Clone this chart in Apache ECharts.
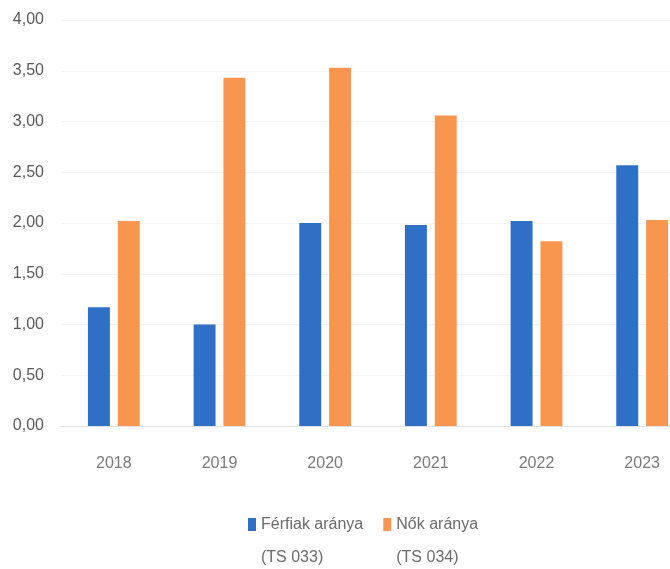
<!DOCTYPE html>
<html>
<head>
<meta charset="utf-8">
<script src="https://cdn.jsdelivr.net/npm/echarts@6/dist/echarts.min.js"></script>
<style>
  html, body { margin: 0; padding: 0; background: #fff; }
  #chart { width: 670px; height: 569px; }
</style>
</head>
<body>
<div id="chart"></div>
<script>
// évek és arányok
var years = ['2018', '2019', '2020', '2021', '2022', '2023'];
var ferfiak = [1.17, 1.00, 2.00, 1.98, 2.02, 2.57];
var nok = [2.02, 3.43, 3.53, 3.06, 1.82, 2.03];
var seriesNames = ['Férfiak aránya', 'Nők aránya'];
var seriesCodes = ['(TS 033)', '(TS 034)'];

(function(){
    var chart = echarts.init(document.getElementById('chart'));

    var option = {
        animation: false,
        color: ['#2f6fc6', '#f8964f'],
        grid: {
            left: 61,
            top: 20,
            width: 634,
            height: 406,
            outerBoundsMode: 'none'   // a jobb szélső oszlop kilóghat a képből
        },
        legend: {
            data: seriesNames,
            left: 243,
            top: 470,
            itemWidth: 8,
            itemHeight: 13,
            itemGap: 20,
            icon: 'rect',
            formatter: function (name) {
                // üres első sor, hogy az ikon az első szövegsorhoz igazodjon
                return '\n' + name + '\n' + seriesCodes[seriesNames.indexOf(name)];
            },
            textStyle: {
                fontSize: 16,
                color: '#6b6b6b',
                lineHeight: 33
            }
        },
        xAxis: {
            type: 'category',
            data: years,
            axisLine: { lineStyle: { color: '#e2e2e2' } },
            axisTick: { show: false },
            axisLabel: {
                margin: 30,
                fontSize: 16,
                color: '#7a7a7a'
            }
        },
        yAxis: {
            type: 'value',
            min: 0,
            max: 4,
            interval: 0.5,
            axisLine: { show: false },
            axisTick: { show: false },
            splitLine: { lineStyle: { color: '#f3f3f3' } },
            axisLabel: {
                margin: 17,
                fontSize: 16,
                color: '#5a5a5a',
                formatter: function (v) {
                    return v.toFixed(2).replace('.', ',');
                }
            }
        },
        series: [
            {
                name: seriesNames[0],
                type: 'bar',
                barGap: '36%',
                barCategoryGap: '51%',
                data: ferfiak
            },
            {
                name: seriesNames[1],
                type: 'bar',
                data: nok
            }
        ]
    };

    chart.setOption(option);
})();
</script>
</body>
</html>
